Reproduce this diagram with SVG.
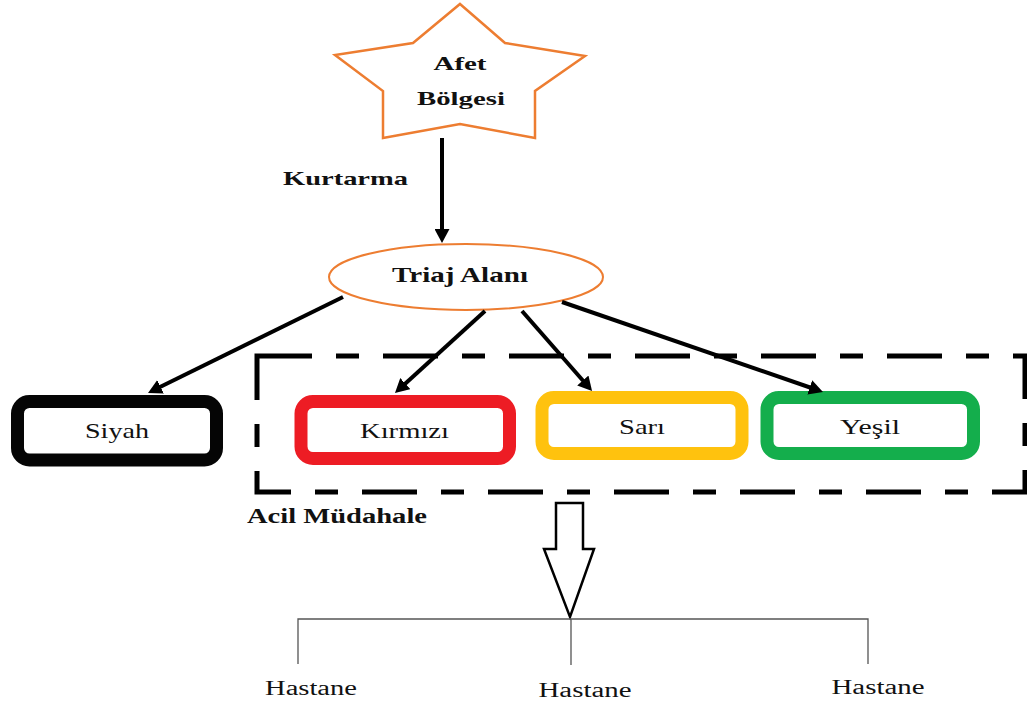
<svg xmlns="http://www.w3.org/2000/svg" width="1027" height="702" viewBox="0 0 1027 702">
  <style>
    .bold { font-family: "Liberation Serif", "Times New Roman", serif; font-weight: bold; fill: #111; }
    .reg { font-family: "Liberation Serif", "Times New Roman", serif; fill: #111; }
    .conn { stroke: #000; stroke-width: 4; fill: none; marker-end: url(#head); }
    .box { fill: #fff; stroke-width: 13; }
    .thin { stroke: #555; stroke-width: 1.3; fill: none; }
  </style>
  <defs>
    <marker id="head" markerUnits="userSpaceOnUse" markerWidth="14" markerHeight="15" viewBox="0 0 14 15" refX="8" refY="7.5" orient="auto">
      <path d="M0,0 L14,7.5 L0,15 z" fill="#000"/>
    </marker>
  </defs>

  <rect width="1027" height="702" fill="#fff"/>

  <!-- disaster zone star -->
  <g id="afet-bolgesi">
    <polygon points="460,4 505,43 585,56 535,91 535,138 460,124 383,138 383,91 335,55 413,43" fill="#fff" stroke="#ED7D31" stroke-width="2.5" stroke-linejoin="miter"/>
    <text class="bold" x="460" y="70" font-size="19" text-anchor="middle" textLength="53" lengthAdjust="spacingAndGlyphs">Afet</text>
    <text class="bold" x="461" y="105" font-size="19" text-anchor="middle" textLength="88" lengthAdjust="spacingAndGlyphs">Bölgesi</text>
  </g>

  <!-- triage area -->
  <g id="triaj-alani">
    <ellipse cx="466" cy="277" rx="137" ry="33" fill="#fff" stroke="#ED7D31" stroke-width="2"/>
    <text class="bold" x="460" y="282" font-size="21" text-anchor="middle" textLength="136" lengthAdjust="spacingAndGlyphs">Triaj Alanı</text>
  </g>

  <!-- emergency response frame -->
  <g id="acil-mudahale">
    <rect x="257" y="356" width="768" height="136" fill="none" stroke="#000" stroke-width="5" stroke-dasharray="55 24 23 24"/>
    <text class="bold" x="247" y="523" font-size="20" textLength="180" lengthAdjust="spacingAndGlyphs">Acil Müdahale</text>
  </g>

  <!-- triage categories -->
  <g id="siyah">
    <rect class="box" x="17.5" y="401.5" width="199" height="58.5" rx="12" stroke="#050505"/>
    <text class="reg" x="117" y="438" font-size="21" text-anchor="middle" textLength="64" lengthAdjust="spacingAndGlyphs">Siyah</text>
  </g>
  <g id="kirmizi">
    <rect class="box" x="301" y="401.5" width="208.5" height="57" rx="12" stroke="#ED1C24"/>
    <text class="reg" x="404.5" y="438" font-size="21" text-anchor="middle" textLength="89" lengthAdjust="spacingAndGlyphs">Kırmızı</text>
  </g>
  <g id="sari">
    <rect class="box" x="542" y="397.5" width="200" height="56" rx="12" stroke="#FFC20E"/>
    <text class="reg" x="642" y="434" font-size="21" text-anchor="middle" textLength="46" lengthAdjust="spacingAndGlyphs">Sarı</text>
  </g>
  <g id="yesil">
    <rect class="box" x="767" y="397.5" width="206.5" height="56" rx="12" stroke="#14AE4C"/>
    <text class="reg" x="870" y="434" font-size="21" text-anchor="middle" textLength="60" lengthAdjust="spacingAndGlyphs">Yeşil</text>
  </g>

  <!-- hospitals -->
  <g id="hastane-1">
    <text class="reg" x="311" y="695" font-size="20" text-anchor="middle" textLength="92" lengthAdjust="spacingAndGlyphs">Hastane</text>
  </g>
  <g id="hastane-2">
    <text class="reg" x="585" y="697" font-size="20" text-anchor="middle" textLength="93" lengthAdjust="spacingAndGlyphs">Hastane</text>
  </g>
  <g id="hastane-3">
    <text class="reg" x="878" y="694" font-size="20" text-anchor="middle" textLength="93" lengthAdjust="spacingAndGlyphs">Hastane</text>
  </g>

  <!-- connectors -->
  <g id="connectors">
    <text class="bold" x="283" y="185" font-size="19" textLength="125" lengthAdjust="spacingAndGlyphs">Kurtarma</text>
    <line class="conn" x1="442" y1="138" x2="442" y2="237"/>
    <line class="conn" x1="343" y1="297" x2="153.4" y2="390.3"/>
    <line class="conn" x1="485" y1="311" x2="399.4" y2="389"/>
    <line class="conn" x1="522" y1="311" x2="588.1" y2="386.5"/>
    <line class="conn" x1="562" y1="302" x2="817.3" y2="390"/>
    <!-- hollow block arrow down to hospitals -->
    <polygon points="556,503 583,503 583,549 594,549 570,617 544,549 556,549" fill="#fff" stroke="#000" stroke-width="2.5" stroke-linejoin="miter"/>
    <!-- distribution bracket -->
    <path class="thin" d="M298,664 V619 H868 V664 M571,619 V665"/>
  </g>
</svg>
